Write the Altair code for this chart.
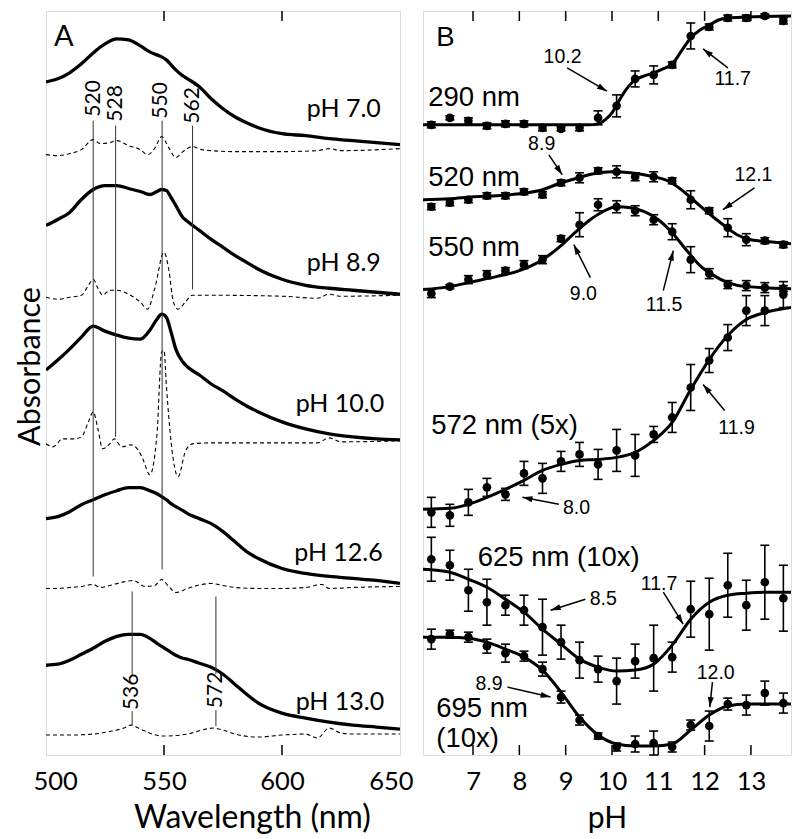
import math
import altair as alt
import pandas as pd

# ---------------- Panel A: spectra (wavelength nm, offset absorbance a.u.) ----------------
SPEC_WL = [500, 505, 510, 515, 520, 525, 530, 535, 540, 544, 547, 549, 551, 553, 555, 558, 560,
           565, 570, 575, 580, 585, 590, 600, 610, 620, 630, 640, 650]
SPEC_PH70 = [675, 678, 684, 693, 704, 713, 718, 717, 711, 705, 702, 700, 697, 692, 687, 681, 678,
             670, 658, 648, 640, 634, 629, 623, 621, 618, 616, 614, 612]
SPEC_PH89 = [531, 537, 544, 557, 567, 571, 571, 568, 565, 562, 565, 567, 566, 559, 551, 539, 535,
             526, 517, 509, 501, 494, 487, 477, 471, 468, 466, 464, 462]
SPEC_PH100 = [386, 396, 407, 419, 430, 425, 421, 418, 417, 426, 437, 442, 439, 424, 407, 394, 389,
              381, 372, 365, 357, 350, 344, 334, 327, 322, 319, 317, 316]
SPEC_PH126 = [237, 239, 244, 251, 256, 261, 265, 268, 268, 265, 262, 259, 256, 252, 249, 245, 242,
              237, 232, 224, 214, 204, 197, 187, 182, 179, 177, 175, 172]
SPEC_PH130 = [90, 91, 95, 101, 107, 114, 119, 121, 121, 117, 112, 109, 106, 103, 100, 97, 96,
              92, 88, 81, 71, 61, 52, 42, 37, 33, 30, 28, 26]
SPEC_NAMES = ["pH 7.0", "pH 8.9", "pH 10.0", "pH 12.6", "pH 13.0"]

# second-derivative traces (dashed)
D70_WL = [500, 505, 510, 515, 520, 523, 527, 530, 535, 540, 543, 546, 549, 552, 555, 558, 562, 566,
          570, 580, 600, 615, 620, 625, 650]
D70 = [602, 601, 603, 607, 617, 613, 614, 616, 611, 607, 602, 608, 620, 609, 599, 605, 610, 607,
       606, 605, 605, 606, 608, 606, 608]
D89_WL = [500, 505, 510, 515, 518, 520, 522, 524, 527, 530, 535, 540, 543, 546, 550, 552, 554, 556,
          559, 562, 570, 600, 615, 620, 625, 650]
D89 = [459, 457, 459, 461, 471, 477, 468, 461, 466, 466, 462, 454, 447, 467, 504, 487, 454, 447,
       454, 461, 461, 460, 458, 462, 460, 461]
D100_WL = [500, 503, 507, 512, 515, 518, 520, 522, 524, 527, 529, 532, 536, 539, 541, 544, 547, 549,
           550, 551, 553, 556, 559, 562, 570, 600, 615, 620, 625, 650]
D100 = [312, 309, 317, 317, 319, 334, 344, 327, 307, 312, 317, 309, 311, 306, 297, 281, 321, 404,
        406, 371, 314, 279, 304, 312, 313, 313, 313, 318, 314, 315]
D126_WL = [500, 505, 510, 515, 520, 523, 527, 532, 537, 542, 546, 549, 552, 555, 560, 566, 570, 575,
           580, 590, 600, 610, 617, 620, 630, 650]
D126 = [167, 167, 168, 169, 171, 168, 170, 173, 175, 169, 170, 176, 169, 163, 167, 171, 172, 170,
        168, 167, 167, 168, 171, 167, 168, 169]
D130_WL = [500, 510, 520, 528, 533, 536, 540, 545, 550, 560, 566, 571, 575, 580, 590, 600, 610, 615,
           620, 625, 630, 650]
D130 = [20, 20, 21, 24, 27, 30, 26, 21, 19, 21, 25, 27, 25, 21, 18, 20, 21, 17, 27, 22, 21, 21]

# peak marker lines and their labels
MARK_WL = [520, 529.5, 549.2, 562.1, 536.5, 536.5, 572, 572]
MARK_TOP = [636, 631, 636, 631, 164, 44, 159, 45]
MARK_BOT = [179, 319, 186, 467, 80, 30, 81, 29]
MARK_LABELS = ["520", "528", "550", "562", "536", "572"]
MARK_LABEL_WL = [520.2, 529.6, 548.9, 562.1, 536.4, 572.0]
MARK_LABEL_Y = [640, 635, 638, 633, 45, 47]

PH_LABELS = ["pH 7.0", "pH 8.9", "pH 10.0", "pH 12.6", "pH 13.0"]
PH_LABEL_WL = [641.9, 641.9, 643.3, 642.7, 643.3]
PH_LABEL_Y = [640, 485, 344, 195, 45]

A_TICKS = [550, 600]

# ---------------- Panel B: titrations ----------------
PH = [6.1, 6.5, 6.9, 7.3, 7.7, 8.1, 8.5, 8.9, 9.3, 9.7, 10.1, 10.5, 10.9, 11.3, 11.7, 12.1, 12.5,
      12.9, 13.3, 13.7]
A290 = [631, 638, 635, 630, 632, 632, 628, 627, 628, 638, 650, 677, 681, 691, 720, 729, 738, 738, 740, 735]
E290 = [3, 2, 3, 3, 3, 3, 3, 2, 3, 7, 11, 8, 9, 3, 13, 3, 3, 3, 2, 3]
A520 = [549, 553, 556, 560, 560, 564, 561, 573, 578, 585, 584, 579, 579, 575, 556, 545, 528, 516, 515, 511]
E520 = [3, 3, 3, 3, 3, 3, 3, 3, 5, 3, 6, 4, 5, 3, 9, 3, 9, 6, 3, 3]
A550 = [462, 469, 476, 481, 485, 491, 496, 517, 531, 551, 549, 545, 536, 524, 496, 482, 471, 470, 468, 467]
E550 = [4, 2, 4, 4, 3, 4, 4, 3, 12, 6, 6, 5, 5, 8, 13, 5, 4, 5, 5, 3]
A572 = [243, 240, 253, 268, 261, 282, 277, 294, 301, 291, 305, 300, 321, 338, 368, 395, 418, 445, 445, 461]
E572 = [15, 11, 13, 9, 6, 12, 15, 10, 12, 15, 21, 21, 8, 15, 23, 12, 13, 15, 15, 13]
A625 = [196, 190, 165, 153, 150, 145, 128, 113, 95, 86, 74, 94, 97, 98, 146, 141, 170, 150, 173, 157]
E625 = [22, 15, 21, 23, 10, 15, 28, 17, 18, 13, 23, 17, 33, 15, 28, 36, 32, 25, 37, 33]
A695 = [116, 121, 118, 109, 102, 99, 86, 58, 35, 19, 8, 11, 12, 8, 30, 29, 51, 50, 62, 52]
E695 = [10, 4, 5, 7, 9, 5, 7, 6, 5, 3, 4, 8, 12, 5, 5, 15, 6, 10, 12, 10]
SERIES_B = ["290", "520", "550", "572", "625", "695"]

FIT290_PH = [5.92, 9.5, 9.7, 9.85, 10.0, 10.1, 10.3, 10.5, 10.7, 10.9, 11.1, 11.3, 11.5, 11.7, 11.9,
             12.1, 12.3, 12.5, 12.9, 13.865]
FIT290 = [631, 631, 632, 636, 643, 651, 666, 676, 680, 683, 687, 692, 705, 718, 726, 731, 736, 738, 739, 740]
FIT520_PH = [5.92, 6.5, 7.0, 7.5, 8.0, 8.5, 8.9, 9.2, 9.6, 10.0, 10.4, 10.8, 11.2, 11.5, 11.8, 12.1,
             12.4, 12.7, 13.0, 13.4, 13.865]
FIT520 = [556, 557, 559, 560, 562, 566, 573, 577, 582, 584, 583, 580, 575, 566, 554, 542, 531, 521, 516, 514, 512]
FIT550_PH = [5.92, 6.5, 7.0, 7.5, 8.0, 8.5, 8.9, 9.2, 9.5, 9.8, 10.1, 10.4, 10.7, 11.0, 11.3, 11.6,
             11.9, 12.2, 12.5, 12.9, 13.865]
FIT550 = [466, 469, 474, 479, 485, 496, 510, 523, 535, 544, 549, 548, 544, 536, 523, 506, 490, 480, 473, 469, 467]
FIT_PH = [5.92, 6.5, 6.9, 7.3, 7.7, 8.1, 8.5, 8.9, 9.3, 9.7, 10.1, 10.5, 10.9, 11.3, 11.7, 12.1,
          12.5, 12.9, 13.3, 13.865]
FIT572 = [246, 247, 251, 258, 266, 275, 285, 291, 295, 296, 298, 303, 315, 333, 366, 396, 420, 436, 443, 448]
FIT625 = [186, 183, 176, 168, 156, 143, 126, 111, 96, 88, 84, 85, 91, 110, 136, 153, 160, 162, 163, 163]
FIT695 = [118, 118, 117, 113, 106, 98, 85, 63, 38, 20, 11, 9, 9, 11, 25, 40, 49, 51, 51, 51]

CURVE_LABELS = ["290 nm", "520 nm", "550 nm", "572 nm (5x)", "625 nm (10x)", "695 nm", "(10x)"]
CURVE_LABEL_PH = [6.034, 6.034, 6.034, 6.098, 7.10, 6.206, 6.206]
CURVE_LABEL_Y = [650, 570, 500, 321, 189, 38, 8]

PKA_LABELS = ["10.2", "11.7", "8.9", "12.1", "9.0", "11.5", "11.9", "8.0", "8.5", "11.7", "12.0", "8.9"]
PKA_PH = [8.933, 12.605, 8.482, 13.055, 9.383, 11.123, 12.69, 9.233, 9.813, 11.015, 12.239, 7.344]
PKA_Y = [693, 671, 606, 575, 456, 445, 321, 241, 150, 165, 76, 65]
ARROW_X1 = [9.033, 12.503, 8.638, 13.077, 9.534, 11.108, 12.433, 8.853, 9.426, 11.108, 12.169, 7.745]
ARROW_Y1 = [688, 688, 601, 568, 478, 465, 345, 251, 156, 163, 73, 68]
ARROW_X2 = [9.892, 11.967, 8.926, 12.396, 9.175, 11.323, 11.967, 8.067, 8.675, 11.537, 12.111, 8.675]
ARROW_Y2 = [664.7, 707, 581, 546, 511, 505, 371, 258, 145, 131, 48, 58]

B_TICKS = [7, 8, 9, 10, 11, 12, 13]

# ---------------- layout constants ----------------
A_W, A_H = 354, 744
B_W, B_H = 368, 744
WL_DOMAIN = [500, 650]
YA_DOMAIN = [0, 746]
PH_DOMAIN = [5.92, 13.865]
YB_DOMAIN = [0, 745]

FONT_A = "Lato"
FONT_B = "Liberation Sans"

XA = alt.Scale(domain=WL_DOMAIN, nice=False, zero=False)
YA = alt.Scale(domain=YA_DOMAIN, nice=False, zero=False)
XB = alt.Scale(domain=PH_DOMAIN, nice=False, zero=False)
YB = alt.Scale(domain=YB_DOMAIN, nice=False, zero=False)

AX_A_X = alt.Axis(values=[500, 550, 600, 650], ticks=False, domain=False, grid=False,
                  labelFont=FONT_A, labelFontSize=25.5, labelPadding=14, labelColor="black",
                  labelFlush=True, labelFlushOffset=13,
                  title="Wavelength (nm)", titleFont=FONT_A, titleFontSize=32,
                  titleFontWeight="normal", titleColor="black", titleX=206, titleY=72,
                  titleBaseline="alphabetic", titleAlign="center")
AX_A_Y = alt.Axis(labels=False, ticks=False, domain=False, grid=False,
                  title="Absorbance", titleFont=FONT_A, titleFontSize=30.5, titleFontWeight="normal",
                  titleColor="black", titleAngle=270, titleX=-7, titleY=355,
                  titleBaseline="alphabetic", titleAlign="center")
AX_B_X = alt.Axis(values=B_TICKS, ticks=False, domain=False, grid=False,
                  labelFont=FONT_A, labelFontSize=25.5, labelPadding=14, labelColor="black",
                  title="pH", titleFont=FONT_A, titleFontSize=30, titleFontWeight="normal",
                  titleColor="black", titleY=72, titleBaseline="alphabetic", titleAlign="center",
                  titleX=B_W / 2)


def xa(f="wl"):
    return alt.X(f"{f}:Q", scale=XA, axis=AX_A_X)


def ya(f="a"):
    return alt.Y(f"{f}:Q", scale=YA, axis=AX_A_Y)


def xb(f="ph"):
    return alt.X(f"{f}:Q", scale=XB, axis=AX_B_X)


def yb(f="v"):
    return alt.Y(f"{f}:Q", scale=YB, axis=None)


def long_df(xname, yname, xs_list, ys_list, names):
    rows = []
    for xs, ys, n in zip(xs_list, ys_list, names):
        for x, y in zip(xs, ys):
            rows.append({xname: x, yname: y, "series": n})
    return pd.DataFrame(rows)


# ---------------- Panel A ----------------
spec_df = long_df("wl", "a", [SPEC_WL] * 5,
                  [SPEC_PH70, SPEC_PH89, SPEC_PH100, SPEC_PH126, SPEC_PH130], SPEC_NAMES)
deriv_df = long_df("wl", "a", [D70_WL, D89_WL, D100_WL, D126_WL, D130_WL],
                   [D70, D89, D100, D126, D130], SPEC_NAMES)
mark_df = pd.DataFrame({"wl": MARK_WL, "a": MARK_TOP, "a2": MARK_BOT})
mlab_df = pd.DataFrame({"wl": MARK_LABEL_WL, "a": MARK_LABEL_Y, "label": MARK_LABELS})
phlab_df = pd.DataFrame({"wl": PH_LABEL_WL, "a": PH_LABEL_Y, "label": PH_LABELS})
a_tag = pd.DataFrame({"wl": [503.4], "a": [711], "label": ["A"]})
a_ticks = pd.DataFrame({"wl": A_TICKS})

spectra = alt.Chart(spec_df).mark_line(color="black", strokeWidth=3.3, interpolate="monotone",
                                       clip=True).encode(x=xa(), y=ya(), detail="series:N")
derivs = alt.Chart(deriv_df).mark_line(color="black", strokeWidth=1.1, strokeDash=[4, 3],
                                       interpolate="monotone", clip=True).encode(
    x=xa(), y=ya(), detail="series:N")
marks = alt.Chart(mark_df).mark_rule(color="#333333", strokeWidth=1).encode(x=xa(), y=ya(), y2="a2:Q")
mlabels = alt.Chart(mlab_df).mark_text(angle=270, align="left", baseline="middle", font=FONT_A,
                                       fontSize=21, color="black").encode(x=xa(), y=ya(), text="label:N")
phlabels = alt.Chart(phlab_df).mark_text(align="right", baseline="alphabetic", font=FONT_A,
                                         fontSize=25, color="black").encode(x=xa(), y=ya(), text="label:N")
atag = alt.Chart(a_tag).mark_text(align="left", baseline="alphabetic", font=FONT_A, fontSize=29,
                                  color="black").encode(x=xa(), y=ya(), text="label:N")
a_top = alt.Chart(a_ticks).mark_rule(color="black", strokeWidth=1.5).encode(
    x=xa(), y=alt.value(0), y2=alt.value(10))
a_bot = alt.Chart(a_ticks).mark_rule(color="black", strokeWidth=1.5).encode(
    x=xa(), y=alt.value(A_H - 10), y2=alt.value(A_H))

panel_a = alt.layer(spectra, derivs, marks, mlabels, phlabels, atag, a_top, a_bot).properties(
    width=A_W, height=A_H)

# ---------------- Panel B ----------------
rows = []
for name, vals, errs in zip(SERIES_B, [A290, A520, A550, A572, A625, A695],
                            [E290, E520, E550, E572, E625, E695]):
    for p, v, e in zip(PH, vals, errs):
        rows.append({"ph": p, "v": v, "lo": v - e, "hi": v + e, "series": name})
pts_df = pd.DataFrame(rows)
fit_df = long_df("ph", "v", [FIT290_PH, FIT520_PH, FIT550_PH, FIT_PH, FIT_PH, FIT_PH],
                 [FIT290, FIT520, FIT550, FIT572, FIT625, FIT695], SERIES_B)
clab_df = pd.DataFrame({"ph": CURVE_LABEL_PH, "v": CURVE_LABEL_Y, "label": CURVE_LABELS})
pka_df = pd.DataFrame({"ph": PKA_PH, "v": PKA_Y, "label": PKA_LABELS})

px_per_ph = B_W / (PH_DOMAIN[1] - PH_DOMAIN[0])
px_per_v = B_H / (YB_DOMAIN[1] - YB_DOMAIN[0])
angles = []
for x1, y1, x2, y2 in zip(ARROW_X1, ARROW_Y1, ARROW_X2, ARROW_Y2):
    dx = (x2 - x1) * px_per_ph
    dy_up = (y2 - y1) * px_per_v
    angles.append(math.degrees(math.atan2(dx, dy_up)) % 360)
arrow_df = pd.DataFrame({"x1": ARROW_X1, "y1": ARROW_Y1, "x2": ARROW_X2, "y2": ARROW_Y2, "ang": angles})
b_tag = pd.DataFrame({"ph": [6.206], "v": [710], "label": ["B"]})
b_ticks = pd.DataFrame({"ph": B_TICKS})

ebars = alt.Chart(pts_df).mark_rule(color="black", strokeWidth=1.6).encode(x=xb(), y=yb("lo"), y2="hi:Q")
cap_lo = alt.Chart(pts_df).mark_tick(color="black", orient="horizontal", size=9, thickness=1.6,
                                     opacity=1).encode(x=xb(), y=yb("lo"))
cap_hi = alt.Chart(pts_df).mark_tick(color="black", orient="horizontal", size=9, thickness=1.6,
                                     opacity=1).encode(x=xb(), y=yb("hi"))
dots = alt.Chart(pts_df).mark_circle(color="black", size=75, opacity=1).encode(x=xb(), y=yb())
fits = alt.Chart(fit_df).mark_line(color="black", strokeWidth=3, interpolate="monotone",
                                   clip=True).encode(x=xb(), y=yb(), detail="series:N")
clabels = alt.Chart(clab_df).mark_text(align="left", baseline="alphabetic", font=FONT_B, fontSize=27.5,
                                       color="black").encode(x=xb(), y=yb(), text="label:N")
pkalabels = alt.Chart(pka_df).mark_text(align="center", baseline="alphabetic", font=FONT_B,
                                        fontSize=19.5, color="black").encode(x=xb(), y=yb(), text="label:N")
arrows = alt.Chart(arrow_df).mark_rule(color="black", strokeWidth=1.5).encode(
    x=xb("x1"), y=yb("y1"), x2="x2:Q", y2="y2:Q")
heads = alt.Chart(arrow_df).mark_point(shape="M0,0L0.6,2L-0.6,2Z", size=100, filled=True,
                                       color="black", opacity=1, strokeWidth=0).encode(
    x=xb("x2"), y=yb("y2"), angle=alt.Angle("ang:Q", scale=None))
btag = alt.Chart(b_tag).mark_text(align="left", baseline="alphabetic", font=FONT_B, fontSize=27.5,
                                  color="black").encode(x=xb(), y=yb(), text="label:N")
b_top = alt.Chart(b_ticks).mark_rule(color="black", strokeWidth=1.5).encode(
    x=xb(), y=alt.value(0), y2=alt.value(10))
b_bot = alt.Chart(b_ticks).mark_rule(color="black", strokeWidth=1.5).encode(
    x=xb(), y=alt.value(B_H - 10), y2=alt.value(B_H))

panel_b = alt.layer(fits, ebars, cap_lo, cap_hi, dots, clabels, pkalabels, arrows, heads, btag,
                    b_top, b_bot).properties(width=B_W, height=B_H)

chart = alt.hconcat(panel_a, panel_b, spacing=23, bounds="flush").properties(
    padding={"left": 6, "top": 1, "right": 0, "bottom": 0}
).configure_view(stroke="black", strokeWidth=2).configure(background="white")

chart.save("out.html", embed_options={"renderer": "svg", "actions": False})
